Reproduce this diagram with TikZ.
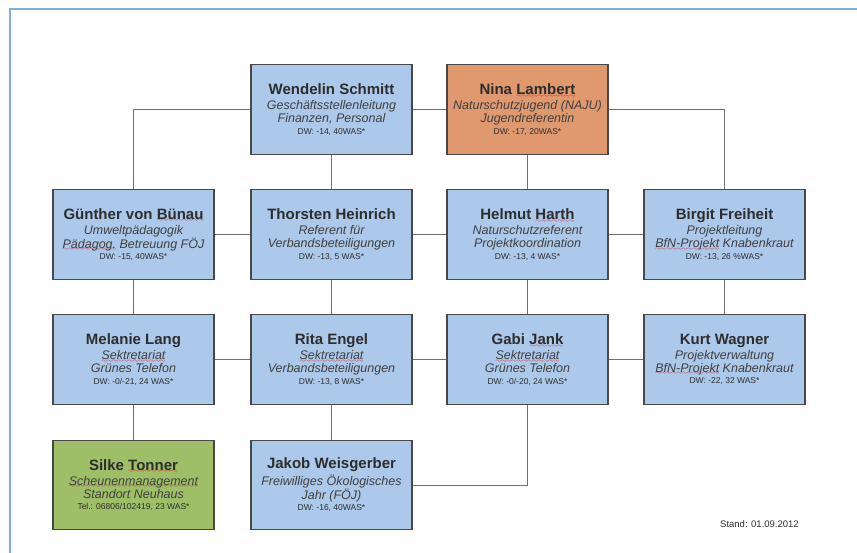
\documentclass[tikz,border=0pt]{standalone}
\usepackage{fontspec}
\setmainfont{Liberation Sans}
\usepackage{tikz}

\definecolor{kartenblau}{RGB}{172,200,234}
\definecolor{kartenorange}{RGB}{224,152,111}
\definecolor{kartengruen}{RGB}{159,190,104}
\definecolor{randgrau}{RGB}{72,72,72}
\definecolor{liniengrau}{RGB}{112,112,112}
\definecolor{rahmenblau}{RGB}{127,174,221}
\definecolor{schrift}{RGB}{45,45,45}
\definecolor{kursiv}{RGB}{64,64,64}

% red wavy spell-check underline
\font\wellenfont=lasy6
\newbox\wellebox
\newcommand{\welle}[1]{\leavevmode\setbox\wellebox\hbox{#1}%
  \rlap{\lower2.6pt\hbox to\wd\wellebox{\color{red!85!black}\xleaders\hbox{\wellenfont\char58}\hfil}}%
  \box\wellebox}

% one card: name, two function lines, hours
\newcommand{\karte}[4]{{\fontsize{15}{15}\selectfont\bfseries #1}\\[2pt]
  {\color{kursiv}\itshape #2}\\{\color{kursiv}\itshape #3}\\[-1.5pt]{\fontsize{8.5}{9}\selectfont #4}}

\begin{document}
\begin{tikzpicture}[x=1pt,y=-1pt,
    karte/.style={draw=randgrau,line width=1.1pt,fill=kartenblau,
      minimum width=161pt,minimum height=89.5pt,inner sep=0pt,
      align=center,text=schrift,font=\fontsize{12.5}{13}\selectfont},
    linie/.style={draw=liniengrau,line width=1pt}]
  \useasboundingbox (0,0) rectangle (857,553);

  % frame
  \draw[rahmenblau,line width=1.5pt] (10,553) -- (10,9) -- (857,9);

  % top row
  \node[karte] (schmitt) at (331.5,109.5)
    {\karte{Wendelin Schmitt}{Geschäftsstellenleitung}{Finanzen, Personal}{DW: -14, 40WAS*}};
  \node[karte,fill=kartenorange] (lambert) at (527.5,109.5)
    {\karte{Nina \welle{Lambert}}{Naturschutzjugend (NAJU)}{Jugendreferentin}{DW: -17, 20WAS*}};

  % second row
  \node[karte] (buenau) at (133.5,234.5)
    {\karte{Günther von \welle{Bünau}}{Umweltpädagogik}{\welle{Pädagog.} Betreuung FÖJ}{DW: -15, 40WAS*}};
  \node[karte] (heinrich) at (331.5,234.5)
    {\karte{Thorsten Heinrich}{Referent für}{Verbandsbeteiligungen}{DW: -13, 5 WAS*}};
  \node[karte] (harth) at (527.5,234.5)
    {\karte{Helmut \welle{Harth}}{Naturschutzreferent}{Projektkoordination}{DW: -13, 4 WAS*}};
  \node[karte] (freiheit) at (724.5,234.5)
    {\karte{Birgit Freiheit}{Projektleitung}{\welle{BfN-Projekt} Knabenkraut}{DW: -13, 26 \%WAS*}};

  % third row
  \node[karte] (lang) at (133.5,359.5)
    {\karte{Melanie Lang}{\welle{Sektretariat}}{Grünes Telefon}{DW: -0/-21, 24 WAS*}};
  \node[karte] (engel) at (331.5,359.5)
    {\karte{Rita Engel}{\welle{Sektretariat}}{Verbandsbeteiligungen}{DW: -13, 8 WAS*}};
  \node[karte] (jank) at (527.5,359.5)
    {\karte{Gabi \welle{Jank}}{\welle{Sektretariat}}{Grünes Telefon}{DW: -0/-20, 24 WAS*}};
  \node[karte] (wagner) at (724.5,359.5)
    {\karte{Kurt Wagner}{Projektverwaltung}{\welle{BfN-Projekt} Knabenkraut}{DW: -22, 32 WAS*}};

  % bottom row
  \node[karte,fill=kartengruen] (tonner) at (133.5,485)
    {\karte{Silke \welle{Tonner}}{\welle{Scheunenmanagement}}{Standort Neuhaus}{Tel.: 06806/102419, 23 WAS*}};
  \node[karte] (weisgerber) at (331.5,485)
    {\karte{Jakob Weisgerber}{Freiwilliges Ökologisches}{Jahr (FÖJ)}{DW: -16, 40WAS*}};

  % connectors
  \draw[linie] (buenau.north) |- (schmitt.west);
  \draw[linie] (schmitt) -- (lambert);
  \draw[linie] (lambert.east) -| (freiheit.north);
  \draw[linie] (schmitt) -- (heinrich);
  \draw[linie] (lambert) -- (harth);
  \draw[linie] (buenau) -- (heinrich);
  \draw[linie] (heinrich) -- (harth);
  \draw[linie] (harth) -- (freiheit);
  \draw[linie] (buenau) -- (lang);
  \draw[linie] (heinrich) -- (engel);
  \draw[linie] (harth) -- (jank);
  \draw[linie] (freiheit) -- (wagner);
  \draw[linie] (lang) -- (engel);
  \draw[linie] (engel) -- (jank);
  \draw[linie] (jank) -- (wagner);
  \draw[linie] (lang) -- (tonner);
  \draw[linie] (engel) -- (weisgerber);
  \draw[linie] (jank.south) |- (weisgerber.east);

  % date
  \node[anchor=base west,text=schrift,font=\fontsize{9.5}{10}\selectfont,inner sep=0pt]
    (stand) at (720,527) {Stand: 01.09.2012};
\end{tikzpicture}
\end{document}
